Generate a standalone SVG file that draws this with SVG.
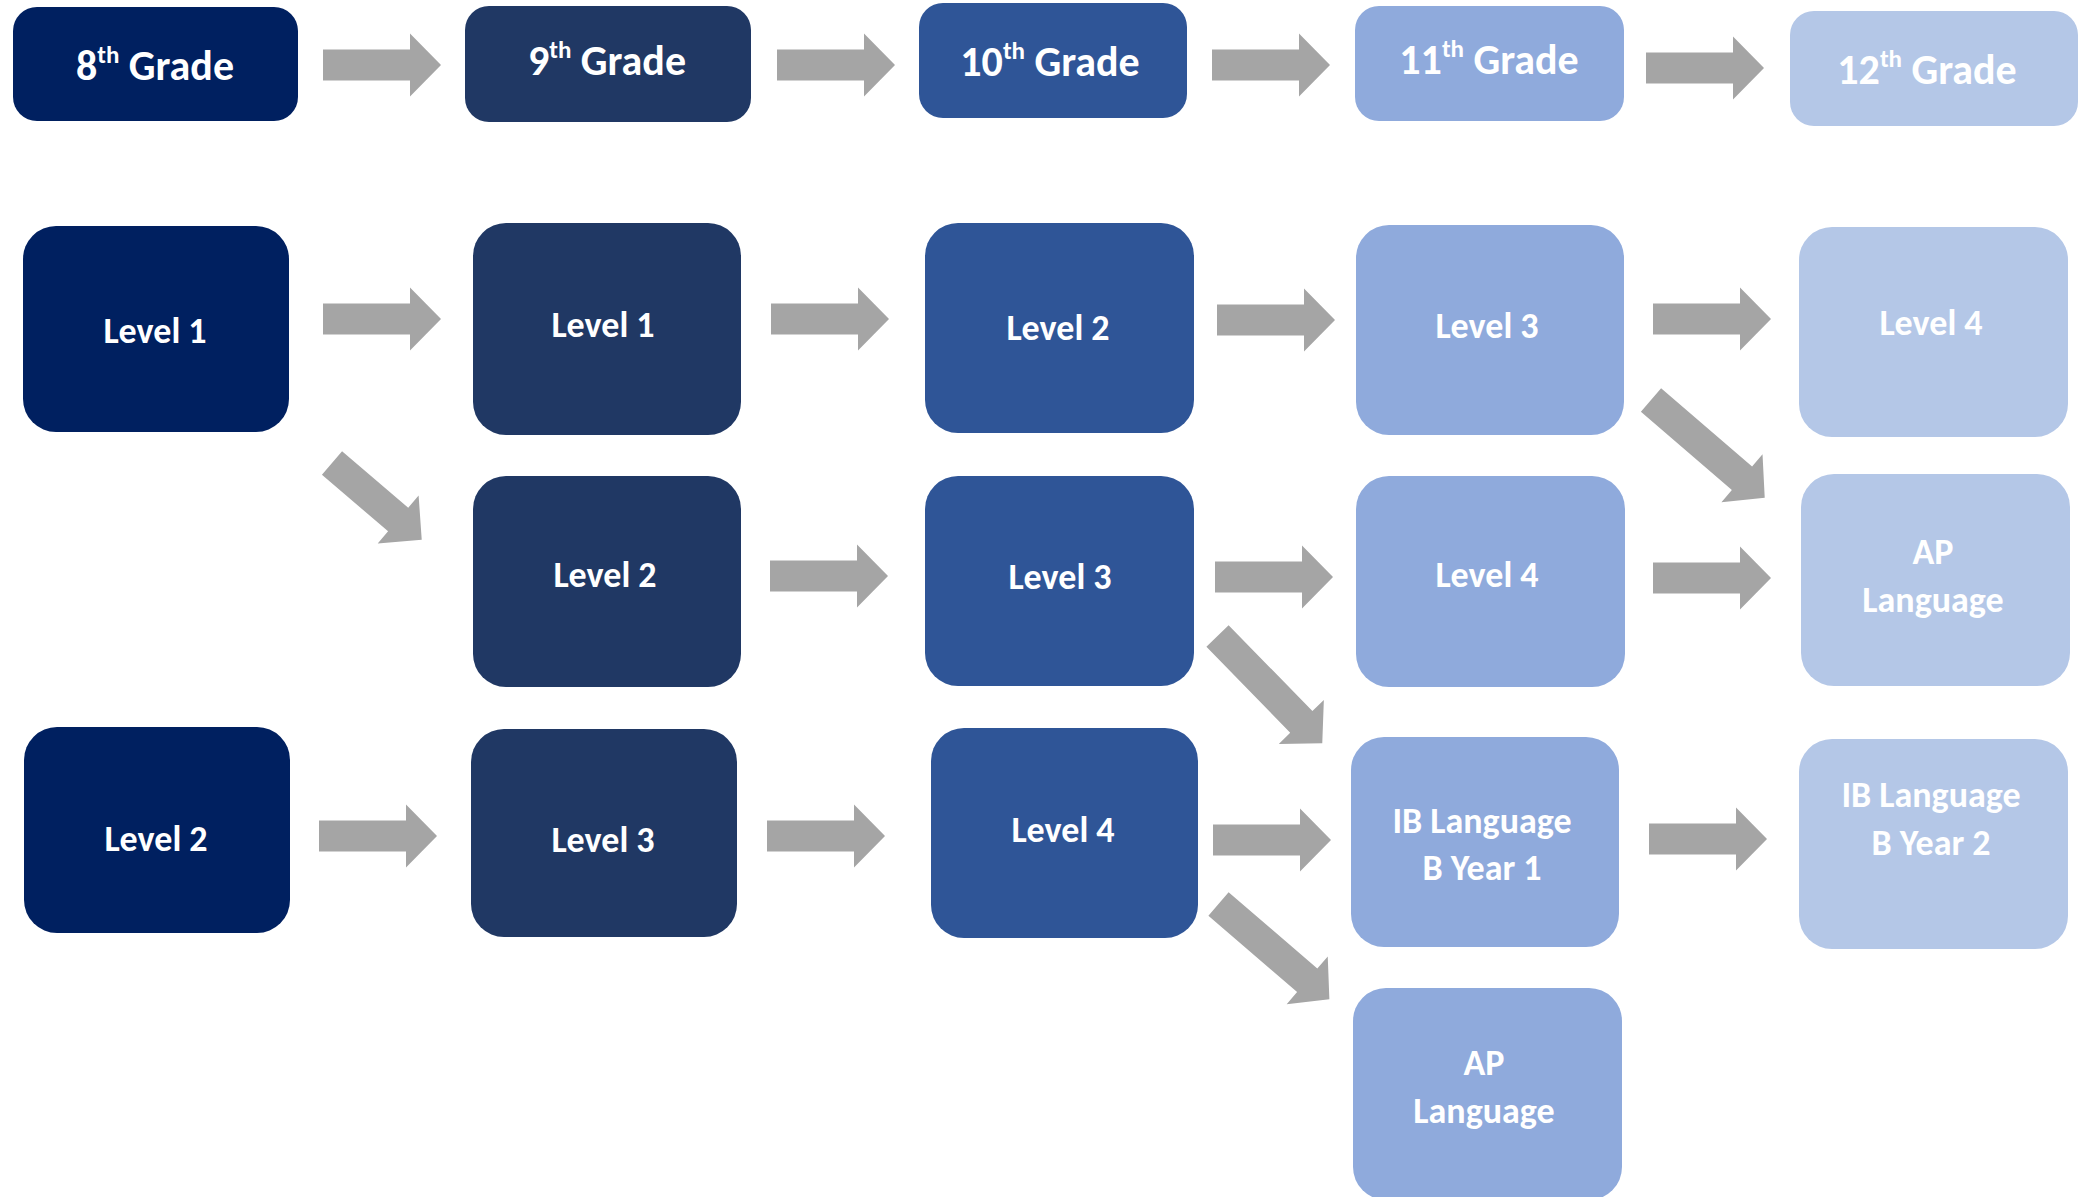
<svg xmlns="http://www.w3.org/2000/svg" xmlns:xlink="http://www.w3.org/1999/xlink" width="2085" height="1197" viewBox="0 0 2085 1197">
<style>
.t{font-family:Carlito,Lato,"Liberation Sans",sans-serif;font-weight:bold;fill:#FFFFFF;text-anchor:middle}
.h{font-size:42px}
.l{font-size:36px}
.sup{font-size:25px}
.g8{fill:#002060}.g9{fill:#203864}.g10{fill:#2F5597}.g11{fill:#8FAADC}.g12{fill:#B4C7E7}
.arr{fill:#A5A5A5}
</style>
<defs>
<path id="a" d="M0,-15.5H87V-31.5L118,0L87,31.5V15.5H0Z"/>
<path id="b" d="M0,-15.5H120V-31.5L150,0L120,31.5V15.5H0Z"/>
</defs>
<rect width="2085" height="1197" fill="#FFFFFF"/>
<g id="connectors" class="arr">
<use xlink:href="#a" transform="translate(323,65)"/>
<use xlink:href="#a" transform="translate(777,65)"/>
<use xlink:href="#a" transform="translate(1212,65)"/>
<use xlink:href="#a" transform="translate(1646,68)"/>
<use xlink:href="#a" transform="translate(323,319)"/>
<use xlink:href="#a" transform="translate(771,319)"/>
<use xlink:href="#a" transform="translate(1217,320)"/>
<use xlink:href="#a" transform="translate(1653,319)"/>
<use xlink:href="#a" transform="translate(770,576)"/>
<use xlink:href="#a" transform="translate(1215,577)"/>
<use xlink:href="#a" transform="translate(1653,578)"/>
<use xlink:href="#a" transform="translate(319,836)"/>
<use xlink:href="#a" transform="translate(767,836)"/>
<use xlink:href="#a" transform="translate(1213,840)"/>
<use xlink:href="#a" transform="translate(1649,839)"/>
<use xlink:href="#a" transform="translate(332,463) rotate(40.5)"/>
<use xlink:href="#b" transform="translate(1651,400) rotate(40.7)"/>
<use xlink:href="#b" transform="translate(1217.5,636) rotate(45.7)"/>
<use xlink:href="#b" transform="translate(1218.5,904) rotate(40.7) scale(0.975,1)"/>
</g>
<g id="h8"><rect class="g8" x="13" y="7" width="285" height="114" rx="24"/><text class="t h" x="155" y="80">8<tspan class="sup" dy="-17">th</tspan><tspan dy="17"> Grade</tspan></text></g>
<g id="h9"><rect class="g9" x="465" y="6" width="286" height="116" rx="24"/><text class="t h" x="607" y="75">9<tspan class="sup" dy="-17">th</tspan><tspan dy="17"> Grade</tspan></text></g>
<g id="h10"><rect class="g10" x="919" y="3" width="268" height="115" rx="24"/><text class="t h" x="1050" y="76">10<tspan class="sup" dy="-17">th</tspan><tspan dy="17"> Grade</tspan></text></g>
<g id="h11"><rect class="g11" x="1355" y="6" width="269" height="115" rx="24"/><text class="t h" x="1489" y="74">11<tspan class="sup" dy="-17">th</tspan><tspan dy="17"> Grade</tspan></text></g>
<g id="h12"><rect class="g12" x="1790" y="11" width="288" height="115" rx="24"/><text class="t h" x="1927" y="84">12<tspan class="sup" dy="-17">th</tspan><tspan dy="17"> Grade</tspan></text></g>
<g id="n8l1"><rect class="g8" x="23" y="226" width="266" height="206" rx="33"/><text class="t l" x="155" y="343">Level 1</text></g>
<g id="n9l1"><rect class="g9" x="473" y="223" width="268" height="212" rx="33"/><text class="t l" x="603" y="337">Level 1</text></g>
<g id="n10l2"><rect class="g10" x="925" y="223" width="269" height="210" rx="33"/><text class="t l" x="1058" y="340">Level 2</text></g>
<g id="n11l3"><rect class="g11" x="1356" y="225" width="268" height="210" rx="33"/><text class="t l" x="1487" y="338">Level 3</text></g>
<g id="n12l4"><rect class="g12" x="1799" y="227" width="269" height="210" rx="33"/><text class="t l" x="1931" y="335">Level 4</text></g>
<g id="n9l2"><rect class="g9" x="473" y="476" width="268" height="211" rx="33"/><text class="t l" x="605" y="587">Level 2</text></g>
<g id="n10l3"><rect class="g10" x="925" y="476" width="269" height="210" rx="33"/><text class="t l" x="1060" y="589">Level 3</text></g>
<g id="n11l4"><rect class="g11" x="1356" y="476" width="269" height="211" rx="33"/><text class="t l" x="1487" y="587">Level 4</text></g>
<g id="n12ap"><rect class="g12" x="1801" y="474" width="269" height="212" rx="33"/><text class="t l" x="1933" y="564">AP</text><text class="t l" x="1933" y="612">Language</text></g>
<g id="n8l2"><rect class="g8" x="24" y="727" width="266" height="206" rx="33"/><text class="t l" x="156" y="851">Level 2</text></g>
<g id="n9l3"><rect class="g9" x="471" y="729" width="266" height="208" rx="33"/><text class="t l" x="603" y="852">Level 3</text></g>
<g id="n10l4"><rect class="g10" x="931" y="728" width="267" height="210" rx="33"/><text class="t l" x="1063" y="842">Level 4</text></g>
<g id="n11ib"><rect class="g11" x="1351" y="737" width="268" height="210" rx="33"/><text class="t l" x="1482" y="833">IB Language</text><text class="t l" x="1482" y="880">B Year 1</text></g>
<g id="n12ib"><rect class="g12" x="1799" y="739" width="269" height="210" rx="33"/><text class="t l" x="1931" y="807">IB Language</text><text class="t l" x="1931" y="855">B Year 2</text></g>
<g id="n11ap"><rect class="g11" x="1353" y="988" width="269" height="212" rx="33"/><text class="t l" x="1484" y="1075">AP</text><text class="t l" x="1484" y="1123">Language</text></g>
</svg>
